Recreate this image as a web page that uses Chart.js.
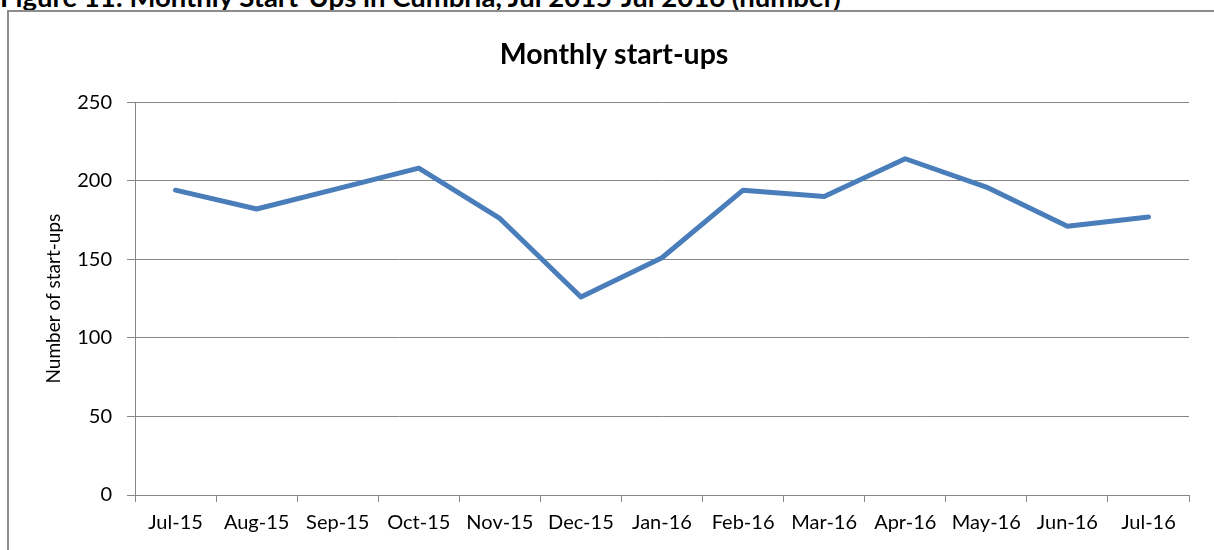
<!DOCTYPE html>
<html>
<head>
<meta charset="utf-8">
<script src="https://cdn.jsdelivr.net/npm/chart.js@4"></script>
<style>
  html, body { margin: 0; padding: 0; background: #fff; overflow: hidden; }
  body { width: 1214px; height: 550px; position: relative; font-family: Lato, "Open Sans", sans-serif; }
  .caption { position: absolute; left: 0; top: -17px; font-size: 27.5px; line-height: 28px; font-weight: bold; color: #000; white-space: nowrap; }
  .frame { position: absolute; left: 7px; top: 10px; width: 1230px; height: 560px; border: 2px solid #8c8c8c; box-sizing: border-box; }
  #wrap { position: absolute; left: 0; top: 0; width: 1214px; height: 550px; }
</style>
</head>
<body>
<div class="caption">Figure 11: Monthly Start-Ups in Cumbria, Jul 2015-Jul 2016 (number)</div>
<div class="frame"></div>
<div id="wrap"><canvas id="chart"></canvas></div>
<script>
const months = ['Jul-15','Aug-15','Sep-15','Oct-15','Nov-15','Dec-15','Jan-16','Feb-16','Mar-16','Apr-16','May-16','Jun-16','Jul-16'];
const startUps = [194, 182, 195, 208, 176, 126, 151, 194, 190, 214, 196, 171, 177];
const yTicks = [0, 50, 100, 150, 200, 250];

const gridGrey = '#868686';

const config = {
  type: 'line',
  data: {
    labels: months,
    datasets: [
      {
        label: 'Start-ups',
        data: startUps,
        borderColor: '#4a7ebb',
        backgroundColor: '#4a7ebb',
        borderWidth: 5,
        borderCapStyle: 'round',
        borderJoinStyle: 'round',
        pointRadius: 0,
        tension: 0,
      }
    ]
  },
  options: {
    responsive: false,
    animation: false,
    layout: {
      padding: { left: 39, right: 25, top: 0, bottom: 0 }
    },
    plugins: {
      legend: { display: false },
      tooltip: { enabled: false },
      title: {
        display: true,
        text: 'Monthly start-ups',
        color: '#000',
        font: { family: 'Lato', size: 28.5, weight: 'bold' },
        padding: { top: 38, bottom: 30 }
      }
    },
    scales: {
      x: {
        offset: true,
        grid: {
          offset: true,
          drawOnChartArea: false,
          color: gridGrey,
          tickLength: 7,
        },
        border: { color: gridGrey, width: 1 },
        ticks: {
          color: '#000',
          font: { family: 'Lato', size: 20 },
          padding: 9,
          maxRotation: 0,
          autoSkip: false,
        },
        afterFit: (scale) => { scale.height = 55; }
      },
      y: {
        min: yTicks[0],
        max: yTicks[yTicks.length - 1],
        afterBuildTicks: (scale) => { scale.ticks = yTicks.map(v => ({ value: v })); },
        grid: {
          color: gridGrey,
          tickLength: 8,
        },
        border: { color: gridGrey, width: 1 },
        ticks: {
          color: '#000',
          font: { family: 'Lato', size: 20 },
          padding: 15,
        },
        title: {
          display: true,
          text: 'Number of start-ups',
          color: '#000',
          font: { family: 'Lato', size: 19 },
          padding: { top: 3, bottom: 0 }
        },
        afterFit: (scale) => { scale.width = 96; }
      }
    }
  }
};

const canvas = document.getElementById('chart');
canvas.width = 1214;
canvas.height = 550;
const chart = new Chart(canvas, config);
</script>
</body>
</html>
